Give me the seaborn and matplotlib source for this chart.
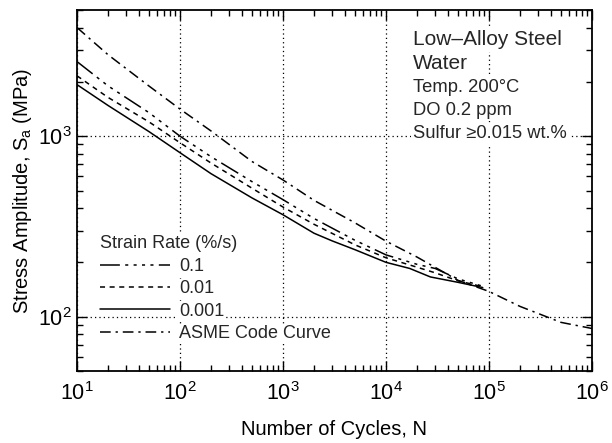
import numpy as np
import pandas as pd
import matplotlib
matplotlib.use("Agg")
import matplotlib.pyplot as plt
import seaborn as sns
from matplotlib.ticker import LogLocator, NullFormatter

sns.set_theme(style="ticks")
plt.rcParams['font.family'] = ['Liberation Sans', 'DejaVu Sans']
plt.rcParams['mathtext.fontset'] = 'custom'
plt.rcParams['mathtext.rm'] = 'Liberation Sans'
plt.rcParams['mathtext.it'] = 'Liberation Sans:italic'

# Data
n_01 = [10, 20, 50, 100, 200, 500, 1000, 2000, 5000, 10000, 20000, 30000, 50000, 85000]
s_01 = [2590, 1900, 1350, 1000, 770, 560, 445, 350, 265, 220, 195, 185, 162, 148]
n_001 = [10, 20, 50, 100, 200, 500, 1000, 2000, 5000, 10000, 20000, 30000, 50000, 85000]
s_001 = [2160, 1640, 1200, 920, 710, 515, 405, 325, 250, 212, 188, 175, 158, 147]
n_0001 = [10, 20, 50, 100, 200, 500, 1000, 2000, 3000, 5000, 10000, 17000, 27000, 50000, 87000]
s_0001 = [1930, 1480, 1060, 810, 620, 455, 367, 290, 263, 235, 200, 185, 166, 155, 145]
n_asme = [10, 20, 50, 100, 200, 500, 1000, 2000, 5000, 10000, 20000, 50000, 100000, 200000, 500000, 1000000]
s_asme = [3999, 2827, 1896, 1413, 1069, 724, 572, 441, 331, 262, 214, 159, 138, 114, 93, 86]

labels = ["0.1", "0.01", "0.001", "ASME Code Curve"]
styles = [(0, (13, 3.5, 2, 3.5, 2, 3.5, 2, 3.5, 2, 3.5)),
          (0, (3.3, 3.0)),
          '-',
          (0, (7, 3.2, 1.5, 3.2))]

fig = plt.figure(figsize=(6.12, 4.43), dpi=100)
ax = fig.add_axes([0.1258, 0.1625, 0.9673 - 0.1258, 0.9774 - 0.1625])

series = [(n_01, s_01), (n_001, s_001), (n_0001, s_0001), (n_asme, s_asme)]
for (n, s), lab, ls in zip(series, labels, styles):
    df = pd.DataFrame({"N": n, "S": s})
    sns.lineplot(data=df, x="N", y="S", ax=ax, color="black", linewidth=1.1,
                 linestyle=ls, label=lab, estimator=None, sort=False, zorder=3)

ax.set_xscale("log")
ax.set_yscale("log")
ax.set_xlim(10, 1e6)
ax.set_ylim(50, 5000)

ax.set_axisbelow(True)
ax.grid(True, which="major", color="black", linestyle=(0, (1, 2.5)), linewidth=0.9)
ax.xaxis.set_major_locator(LogLocator(base=10, numticks=10))
ax.yaxis.set_major_locator(LogLocator(base=10, numticks=10))
ax.xaxis.set_minor_locator(LogLocator(base=10, subs=np.arange(2, 10), numticks=20))
ax.yaxis.set_minor_locator(LogLocator(base=10, subs=np.arange(2, 10), numticks=20))
ax.yaxis.set_minor_formatter(NullFormatter())
ax.xaxis.set_minor_formatter(NullFormatter())
ax.tick_params(which="both", direction="in", top=True, right=True, colors="black",
               labelsize=15.5)
ax.tick_params(which="major", length=7, width=1)
ax.tick_params(which="minor", length=4, width=1)
ax.tick_params(axis="x", pad=8)
ax.tick_params(axis="y", pad=4)
for sp in ax.spines.values():
    sp.set_color("black")
    sp.set_linewidth(1.3)

ax.set_xlabel("Number of Cycles, N", fontsize=14.5, color="black", labelpad=11)
ax.set_ylabel("Stress Amplitude, S$_\\mathregular{a}$ (MPa)", fontsize=14.5,
              color="black", labelpad=3)

leg = ax.legend(loc="lower left", bbox_to_anchor=(0.035, 0.065), title="Strain Rate (%/s)",
                frameon=False, fontsize=13, title_fontsize=13, handlelength=3.85,
                handletextpad=0.5, labelspacing=0.3, borderaxespad=0.0,
                borderpad=0.3)
leg._legend_box.align = "left"
leg.set_zorder(1.5)
tb = dict(facecolor="white", edgecolor="none", pad=1.0)
for t in leg.get_texts():
    t.set_bbox(tb)
leg.get_title().set_bbox(tb)

bb = dict(facecolor="white", edgecolor="none", pad=1.5)
x0 = 0.652
ax.text(x0, 0.917, "Low\u2013Alloy Steel", transform=ax.transAxes, fontsize=15,
        va="center", ha="left", bbox=bb, zorder=1.5)
ax.text(x0, 0.853, "Water", transform=ax.transAxes, fontsize=15,
        va="center", ha="left", bbox=bb, zorder=1.5)
ax.text(x0, 0.784, "Temp. 200\u00b0C", transform=ax.transAxes, fontsize=13.2,
        va="center", ha="left", bbox=bb, zorder=1.5)
ax.text(x0, 0.723, "DO 0.2 ppm", transform=ax.transAxes, fontsize=13.2,
        va="center", ha="left", bbox=bb, zorder=1.5)
ax.text(x0, 0.659, "Sulfur \u22650.015 wt.%", transform=ax.transAxes, fontsize=13.2,
        va="center", ha="left", bbox=bb, zorder=1.5)

fig.savefig("out.png", dpi=100)
